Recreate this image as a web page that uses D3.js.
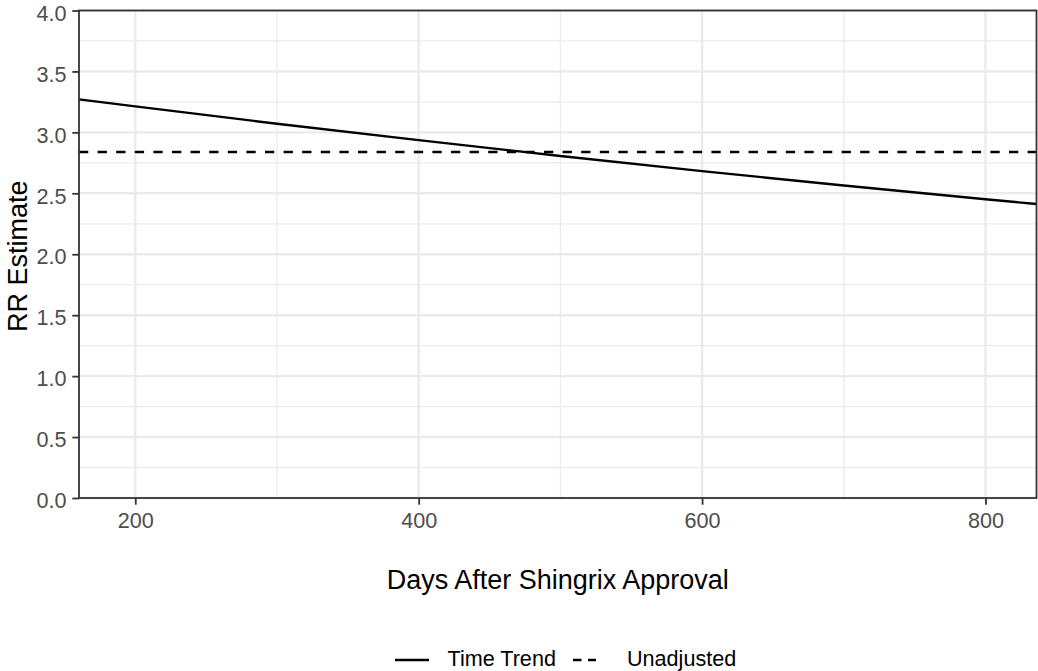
<!DOCTYPE html>
<html><head><meta charset="utf-8">
<script src="https://cdn.jsdelivr.net/npm/d3@7"></script>
<style>body{margin:0;background:#fff}svg{display:block}text{font-family:"Liberation Sans",Arial,sans-serif}</style>
</head><body><svg id="c" width="1038" height="671"></svg>
<script>
const xDomain = [160.3, 836];
const yDomain = [0, 4];
const xTicks = [200, 400, 600, 800];
const xMinor = [300, 500, 700];
const yTicks = [0, 0.5, 1, 1.5, 2, 2.5, 3, 3.5, 4];
const yMinor = [0.25, 0.75, 1.25, 1.75, 2.25, 2.75, 3.25, 3.75];
const trendDays = [160.3, 200, 300, 400, 500, 600, 700, 800, 836];
const trendRR = [3.271, 3.213, 3.071, 2.936, 2.806, 2.682, 2.564, 2.451, 2.412];
const unadjDays = [160.3, 836];
const unadjRR = [2.839, 2.839];
const legendLabels = ["Time Trend", "Unadjusted"];

const svg = d3.select("#c");
const L = 79, R = 1036.5, T = 10.5, B = 498;
const x = d3.scaleLinear().domain(xDomain).range([L, R]);
const y = d3.scaleLinear().domain(yDomain).range([B, T]);

const g = svg.append("g");
g.selectAll(".ym").data(yMinor).join("line")
 .attr("x1", L).attr("x2", R).attr("y1", d => y(d)).attr("y2", d => y(d))
 .attr("stroke", "#ebebeb").attr("stroke-width", 1.2);
g.selectAll(".xm").data(xMinor).join("line")
 .attr("y1", T).attr("y2", B).attr("x1", d => x(d)).attr("x2", d => x(d))
 .attr("stroke", "#ebebeb").attr("stroke-width", 1.2);
g.selectAll(".yM").data(yTicks).join("line")
 .attr("x1", L).attr("x2", R).attr("y1", d => y(d)).attr("y2", d => y(d))
 .attr("stroke", "#ebebeb").attr("stroke-width", 2.4);
g.selectAll(".xM").data(xTicks).join("line")
 .attr("y1", T).attr("y2", B).attr("x1", d => x(d)).attr("x2", d => x(d))
 .attr("stroke", "#ebebeb").attr("stroke-width", 2.4);

const line = d3.line().x(d => x(d[0])).y(d => y(d[1]));
svg.append("path").datum(trendDays.map((d, i) => [d, trendRR[i]]))
 .attr("d", line).attr("fill", "none").attr("stroke", "#000").attr("stroke-width", 2.4);
svg.append("path").datum(unadjDays.map((d, i) => [d, unadjRR[i]]))
 .attr("d", line).attr("fill", "none").attr("stroke", "#000").attr("stroke-width", 2.4)
 .attr("stroke-dasharray", "9.3,9.3");

svg.append("rect").attr("x", L).attr("y", T).attr("width", R - L).attr("height", B - T)
 .attr("fill", "none").attr("stroke", "#333").attr("stroke-width", 1.8);

const xa = svg.append("g").attr("transform", `translate(0,${B})`)
 .call(d3.axisBottom(x).tickValues(xTicks).tickSize(6.7).tickPadding(8.3).tickFormat(d3.format("d")));
const ya = svg.append("g").attr("transform", `translate(${L},0)`)
 .call(d3.axisLeft(y).tickValues(yTicks).tickSize(6.7).tickPadding(5.8).tickFormat(d3.format(".1f")));
[xa, ya].forEach(a => {
  a.select(".domain").remove();
  a.selectAll(".tick line").attr("stroke", "#333").attr("stroke-width", 1.8);
  a.selectAll(".tick text").attr("fill", "#4d4d4d").style("font-size", "21.6px");
});
ya.selectAll(".tick text").attr("dy", "0.45em");

svg.append("text").attr("x", (L + R) / 2).attr("y", 589).attr("text-anchor", "middle")
 .style("font-size", "27px").attr("fill", "#000").text("Days After Shingrix Approval");
svg.append("text").attr("transform", `translate(27,${(T + B) / 2 + 2}) rotate(-90)`)
 .attr("text-anchor", "middle").style("font-size", "27px").attr("fill", "#000").text("RR Estimate");

const leg = svg.append("g");
const ly = 660;
leg.append("line").attr("x1", 395).attr("x2", 429).attr("y1", ly).attr("y2", ly)
 .attr("stroke", "#000").attr("stroke-width", 2.4);
leg.append("text").attr("x", 447.5).attr("y", 666).style("font-size", "21.6px").text(legendLabels[0]);
leg.append("line").attr("x1", 573).attr("x2", 596).attr("y1", ly).attr("y2", ly)
 .attr("stroke", "#000").attr("stroke-width", 2.4).attr("stroke-dasharray", "8.5,6.5");
leg.append("text").attr("x", 627).attr("y", 666).style("font-size", "21.6px").text(legendLabels[1]);
</script></body></html>
